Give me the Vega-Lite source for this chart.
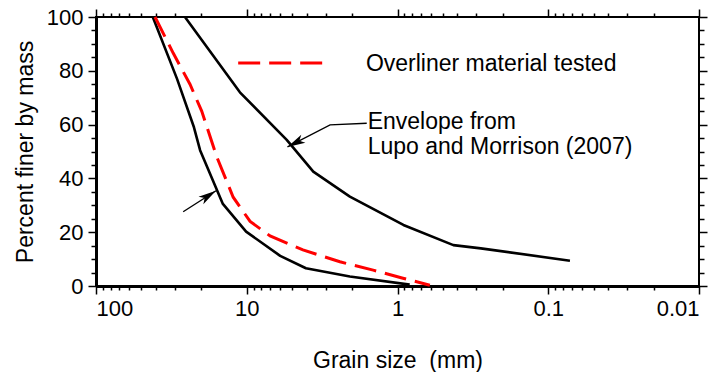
{
  "$schema": "https://vega.github.io/schema/vega-lite/v6.json",
  "width": 603,
  "height": 269,
  "autosize": {"type": "none"},
  "padding": {"left": 96, "top": 17, "right": 21, "bottom": 86},
  "background": "white",
  "config": {
    "view": {"stroke": "black", "strokeWidth": 2},
    "font": "Liberation Sans",
    "axis": {"labelFont": "Liberation Sans", "titleFont": "Liberation Sans", "grid": false, "labelColor": "black", "titleColor": "black", "tickColor": "black", "domainColor": "black", "titleFontWeight": "normal"}
  },
  "datasets": {
    "curves": [
      {"series": "lower", "i": 1, "d": 42, "p": 100},
      {"series": "lower", "i": 2, "d": 29, "p": 77},
      {"series": "lower", "i": 3, "d": 22.4, "p": 59},
      {"series": "lower", "i": 4, "d": 20.4, "p": 50.5},
      {"series": "lower", "i": 5, "d": 14.4, "p": 30.5},
      {"series": "lower", "i": 6, "d": 10.1, "p": 20.2},
      {"series": "lower", "i": 7, "d": 6.0, "p": 11.2},
      {"series": "lower", "i": 8, "d": 4.05, "p": 6.6},
      {"series": "lower", "i": 9, "d": 2.07, "p": 3.5},
      {"series": "lower", "i": 10, "d": 0.83, "p": 0.5},
      {"series": "upper", "i": 1, "d": 25.7, "p": 100},
      {"series": "upper", "i": 2, "d": 11.1, "p": 72},
      {"series": "upper", "i": 3, "d": 5.43, "p": 54.3},
      {"series": "upper", "i": 4, "d": 3.62, "p": 42.5},
      {"series": "upper", "i": 5, "d": 2.07, "p": 33.2},
      {"series": "upper", "i": 6, "d": 0.914, "p": 22.7},
      {"series": "upper", "i": 7, "d": 0.426, "p": 15.2},
      {"series": "upper", "i": 8, "d": 0.28, "p": 14},
      {"series": "upper", "i": 9, "d": 0.0718, "p": 9.4},
      {"series": "overliner", "i": 1, "d": 40.6, "p": 100},
      {"series": "overliner", "i": 2, "d": 30.7, "p": 86.5},
      {"series": "overliner", "i": 3, "d": 23.8, "p": 75},
      {"series": "overliner", "i": 4, "d": 19.9, "p": 65},
      {"series": "overliner", "i": 5, "d": 15.8, "p": 48},
      {"series": "overliner", "i": 6, "d": 12.3, "p": 33},
      {"series": "overliner", "i": 7, "d": 9.5, "p": 24},
      {"series": "overliner", "i": 8, "d": 7.0, "p": 18.6},
      {"series": "overliner", "i": 9, "d": 4.24, "p": 13.4},
      {"series": "overliner", "i": 10, "d": 2.41, "p": 9},
      {"series": "overliner", "i": 11, "d": 1.45, "p": 5.9},
      {"series": "overliner", "i": 12, "d": 0.92, "p": 2.9},
      {"series": "overliner", "i": 13, "d": 0.61, "p": 0.3}
    ],
    "ann": [
      {"seg": "a", "i": 1, "d": 1.60, "p": 60.5},
      {"seg": "a", "i": 2, "d": 2.80, "p": 59.9},
      {"seg": "a", "i": 3, "d": 5.37, "p": 51.7},
      {"seg": "b", "i": 1, "d": 26.4, "p": 27.6},
      {"seg": "b", "i": 2, "d": 16.0, "p": 35.4}
    ],
    "legendline": [
      {"i": 1, "d": 11.4, "p": 82.9},
      {"i": 2, "d": 2.8, "p": 82.9}
    ],
    "head1": [{"d": 5.37, "p": 51.7}],
    "head2": [{"d": 16.0, "p": 35.4}],
    "texts": [
      {"d": 1.62, "p": 82.5, "label": "Overliner material tested"},
      {"d": 1.577, "p": 61.1, "label": "Envelope from"},
      {"d": 1.577, "p": 51.8, "label": "Lupo and Morrison (2007)"}
    ]
  },
  "resolve": {"axis": {"x": "independent", "y": "independent"}},
  "layer": [
    {
      "data": {"name": "curves"},
      "transform": [{"filter": "datum.series !== 'overliner'"}],
      "mark": {"type": "line", "color": "black", "strokeWidth": 2.6, "strokeJoin": "round"},
      "encoding": {
        "x": {"field": "d", "type": "quantitative", "scale": {"type": "log", "domain": [0.01, 100], "reverse": true},
          "axis": {"orient": "bottom", "values": [100, 10, 1, 0.1, 0.01], "format": "~g", "ticks": false, "domain": true, "domainWidth": 3, "labelFontSize": 22, "labelPadding": 12, "title": "Grain size\u00a0 (mm)", "titleFontSize": 23, "titlePadding": 30}},
        "y": {"field": "p", "type": "quantitative", "scale": {"domain": [0, 100]},
          "axis": {"orient": "left", "values": [0, 20, 40, 60, 80, 100], "ticks": false, "domain": true, "domainWidth": 3, "labelFontSize": 22, "labelPadding": 13, "title": "Percent finer by mass", "titleFontSize": 23, "titlePadding": 9}},
        "detail": {"field": "series"},
        "order": {"field": "i"}
      }
    },
    {
      "data": {"name": "curves"},
      "transform": [{"filter": "datum.series === 'overliner'"}],
      "mark": {"type": "line", "color": "#ff0000", "strokeWidth": 3, "strokeDash": [22, 9]},
      "encoding": {
        "x": {"field": "d", "type": "quantitative", "scale": {"type": "log", "domain": [0.01, 100], "reverse": true},
          "axis": {"orient": "bottom", "values": [100, 10, 1, 0.1, 0.01], "labels": false, "domain": false, "ticks": true, "tickColor": "black", "tickSize": 8, "tickWidth": 1.5, "title": null}},
        "y": {"field": "p", "type": "quantitative", "scale": {"domain": [0, 100]},
          "axis": {"orient": "left", "values": [0, 20, 40, 60, 80, 100], "labels": false, "domain": false, "ticks": true, "tickColor": "black", "tickSize": 8, "tickWidth": 1.5, "title": null}},
        "order": {"field": "i"}
      }
    },
    {
      "data": {"name": "ann"},
      "mark": {"type": "line", "color": "black", "strokeWidth": 1.3},
      "encoding": {
        "x": {"field": "d", "type": "quantitative", "scale": {"type": "log", "domain": [0.01, 100], "reverse": true},
          "axis": {"orient": "bottom", "values": [90, 80, 70, 60, 50, 40, 30, 20, 9, 8, 7, 6, 5, 4, 3, 2, 0.9, 0.8, 0.7, 0.6, 0.5, 0.4, 0.3, 0.2, 0.09, 0.08, 0.07, 0.06, 0.05, 0.04, 0.03, 0.02], "labels": false, "domain": false, "ticks": true, "tickColor": "black", "tickSize": 4, "tickWidth": 1.5, "title": null}},
        "y": {"field": "p", "type": "quantitative", "scale": {"domain": [0, 100]},
          "axis": {"orient": "left", "values": [5, 10, 15, 25, 30, 35, 45, 50, 55, 65, 70, 75, 85, 90, 95], "labels": false, "domain": false, "ticks": true, "tickColor": "black", "tickSize": 5, "tickWidth": 1.5, "title": null}},
        "detail": {"field": "seg"},
        "order": {"field": "i"}
      }
    },
    {
      "data": {"name": "legendline"},
      "mark": {"type": "line", "color": "#ff0000", "strokeWidth": 3, "strokeDash": [22, 9]},
      "encoding": {
        "x": {"field": "d", "type": "quantitative", "scale": {"type": "log", "domain": [0.01, 100], "reverse": true},
          "axis": {"orient": "top", "values": [100, 10, 1, 0.1, 0.01], "labels": false, "domain": false, "ticks": true, "tickColor": "black", "tickSize": 8, "tickWidth": 1.5, "title": null}},
        "y": {"field": "p", "type": "quantitative", "scale": {"domain": [0, 100]},
          "axis": {"orient": "right", "values": [0, 20, 40, 60, 80, 100], "labels": false, "domain": false, "ticks": true, "tickColor": "black", "tickSize": 8, "tickWidth": 1.5, "title": null}},
        "order": {"field": "i"}
      }
    },
    {
      "data": {"name": "head1"},
      "mark": {"type": "point", "shape": "M0,0L-1,4L0,3L1,4Z", "filled": true, "color": "black", "opacity": 1, "size": 80, "angle": 242.6},
      "encoding": {
        "x": {"field": "d", "type": "quantitative", "scale": {"type": "log", "domain": [0.01, 100], "reverse": true},
          "axis": {"orient": "top", "values": [90, 80, 70, 60, 50, 40, 30, 20, 9, 8, 7, 6, 5, 4, 3, 2, 0.9, 0.8, 0.7, 0.6, 0.5, 0.4, 0.3, 0.2, 0.09, 0.08, 0.07, 0.06, 0.05, 0.04, 0.03, 0.02], "labels": false, "domain": false, "ticks": true, "tickColor": "black", "tickSize": 4, "tickWidth": 1.5, "title": null}},
        "y": {"field": "p", "type": "quantitative", "scale": {"domain": [0, 100]},
          "axis": {"orient": "right", "values": [5, 10, 15, 25, 30, 35, 45, 50, 55, 65, 70, 75, 85, 90, 95], "labels": false, "domain": false, "ticks": true, "tickColor": "black", "tickSize": 5, "tickWidth": 1.5, "title": null}}
      }
    },
    {
      "data": {"name": "head2"},
      "mark": {"type": "point", "shape": "M0,0L-1,4L0,3L1,4Z", "filled": true, "color": "black", "opacity": 1, "size": 80, "angle": 57.3},
      "encoding": {
        "x": {"field": "d", "type": "quantitative", "axis": null},
        "y": {"field": "p", "type": "quantitative", "axis": null}
      }
    },
    {
      "data": {"name": "texts"},
      "mark": {"type": "text", "align": "left", "baseline": "middle", "font": "Liberation Sans", "fontSize": 23, "color": "black"},
      "encoding": {
        "x": {"field": "d", "type": "quantitative", "axis": null},
        "y": {"field": "p", "type": "quantitative", "axis": null},
        "text": {"field": "label"}
      }
    }
  ]
}
